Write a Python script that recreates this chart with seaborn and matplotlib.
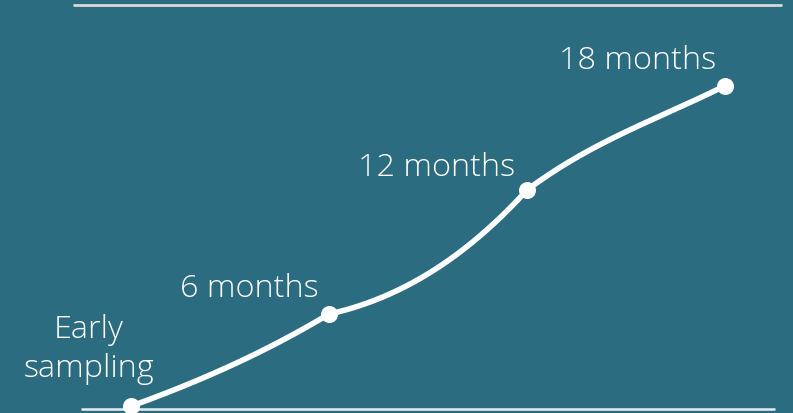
import numpy as np
import pandas as pd
import matplotlib
matplotlib.use("Agg")
import matplotlib.pyplot as plt
import seaborn as sns

# Sampling stages and their cumulative progress (percent of scale)
stages = ["Early\nsampling", "6 months", "12 months", "18 months"]
progress = [0.7, 23.5, 54.2, 80.0]

BG = "#2B6C80"
WHITE = "#FFFFFF"

# Layout scale: pixels per category step and per progress unit
PX_PER_X = 198.0
PX_PER_Y = 4.04

# Curve shape: on-screen slopes leaving / entering each stage marker
slope_out = [0.36, 0.22, 0.75]   # at the start of each segment
slope_in = [0.60, 1.10, 0.50]    # at the end of each segment

sns.set_theme(style="white")
plt.rcParams["font.family"] = ["Open Sans", "DejaVu Sans"]


def hermite_curve(xs, ys, m_out, m_in, n=80):
    """Piecewise cubic Hermite curve through the points with per-side slopes."""
    xs_all, ys_all = [], []
    for i in range(len(xs) - 1):
        x0, x1 = xs[i], xs[i + 1]
        y0, y1 = ys[i], ys[i + 1]
        h = x1 - x0
        m0, m1 = m_out[i], m_in[i]
        t = np.linspace(0, 1, n)
        h00 = 2 * t**3 - 3 * t**2 + 1
        h10 = t**3 - 2 * t**2 + t
        h01 = -2 * t**3 + 3 * t**2
        h11 = t**3 - t**2
        y = h00 * y0 + h10 * h * m0 + h01 * y1 + h11 * h * m1
        x = x0 + t * h
        if i > 0:
            x, y = x[1:], y[1:]
        xs_all.append(x)
        ys_all.append(y)
    return np.concatenate(xs_all), np.concatenate(ys_all)


xpos = np.arange(len(stages))
k = PX_PER_X / PX_PER_Y
cx, cy = hermite_curve(xpos, progress,
                       [s * k for s in slope_out], [s * k for s in slope_in])
pts_df = pd.DataFrame({"x": xpos, "y": progress, "stage": stages})
curve_df = pd.DataFrame({"x": cx, "y": cy})

fig = plt.figure(figsize=(7.93, 4.14), dpi=100, facecolor=BG)
ax = fig.add_axes([0, 0, 1, 1])
ax.set_facecolor(BG)

# horizontal frame lines (top gridline and baseline)
ax.plot([-0.293, 3.289], [100, 100], color="#D9D9D9", lw=2.0, solid_capstyle="butt")
ax.plot([-0.253, 3.253], [0, 0], color="#E8EEF0", lw=1.8, solid_capstyle="butt")

sns.lineplot(data=curve_df, x="x", y="y", ax=ax, color=WHITE, lw=4.0,
             sort=False, estimator=None)
sns.scatterplot(data=pts_df, x="x", y="y", ax=ax, color=WHITE, s=150,
                edgecolor=WHITE, linewidth=0, zorder=5)

# stage labels, up and to the left of each marker (offsets in px, last baseline)
offsets = [(-42, 30), (-80, 18), (-90, 15), (-87, 18)]
for (x, y, lab), (dx, dy) in zip(zip(xpos, progress, stages), offsets):
    ax.annotate(lab, xy=(x, y), xytext=(dx * 0.72, dy * 0.72),
                textcoords="offset points", ha="center", va="baseline",
                multialignment="center",
                color=WHITE, fontsize=23.3, fontweight="light",
                linespacing=1.3)

ax.set_xlim(-131 / PX_PER_X, 3 + 68 / PX_PER_X)
ax.set_ylim(-4 / PX_PER_Y, 100 + 6 / PX_PER_Y)
ax.set_axis_off()

fig.savefig("out.png", dpi=100, facecolor=BG)
